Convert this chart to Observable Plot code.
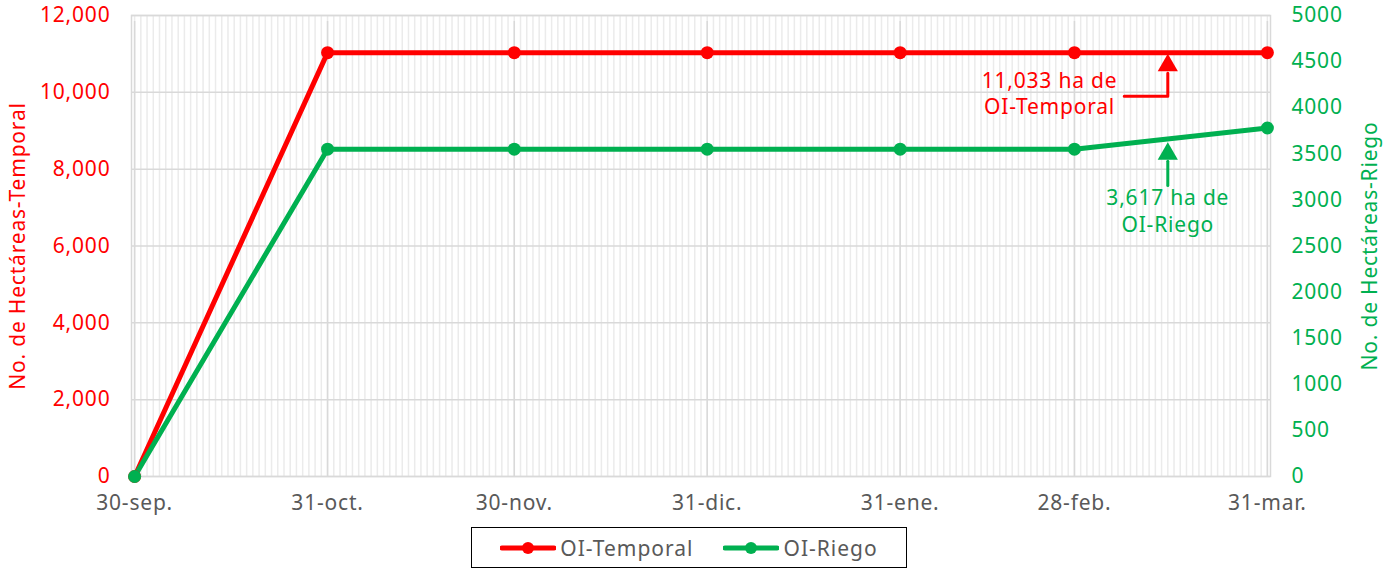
<!DOCTYPE html>
<html>
<head>
<meta charset="utf-8">
<script src="https://cdn.jsdelivr.net/npm/d3@7"></script>
<script src="https://cdn.jsdelivr.net/npm/@observablehq/plot@0.6"></script>
<style>
  body { margin: 0; background: #fff; font-family: "Noto Sans", sans-serif; }
  #chart svg { display: block; }
  #legend {
    position: absolute; left: 471px; top: 527px; width: 436px; height: 41px;
    border: 1.5px solid #000; box-sizing: border-box;
    display: flex; align-items: center; justify-content: center; gap: 30px;
    font-size: 21px; letter-spacing: 1px; color: #595959;
  }
  .item { display: flex; align-items: center; gap: 4px; }
</style>
</head>
<body>
<div id="chart"></div>
<div id="legend"></div>
<script>
// ---- data ----
const dateKeys = ["2022-09-30","2022-10-31","2022-11-30","2022-12-31","2023-01-31","2023-02-28","2023-03-31"];
const dateLabels = ["30-sep.","31-oct.","30-nov.","31-dic.","31-ene.","28-feb.","31-mar."];
const temporal = [0, 11033, 11033, 11033, 11033, 11033, 11033];
const riego = [0, 3550, 3550, 3550, 3550, 3550, 3780];
const leftTicks = [0, 2000, 4000, 6000, 8000, 10000, 12000];
const rightTicks = [0, 500, 1000, 1500, 2000, 2500, 3000, 3500, 4000, 4500, 5000];
const seriesNames = ["OI-Temporal", "OI-Riego"];
const seriesColors = ["#ff0000", "#00b050"];
const annTemporal = {date: "2023-02-24", value: 10000, text: "11,033 ha de\nOI-Temporal", arrow: [["2023-03-08", 9900], ["2023-03-15", 9900], ["2023-03-15", 10500]], tip: ["2023-03-15", 10700]};
const annRiego = {date: "2023-03-15", value: 2890, text: "3,617 ha de\nOI-Riego", arrow: [["2023-03-15", 3156], ["2023-03-15", 3420]], tip: ["2023-03-15", 3500]};

const parse = s => new Date(s + "T00:00:00Z");
const ratio = 12000 / 5000;
const rows = dateKeys.map((d, i) => ({date: parse(d), label: dateLabels[i], temporal: temporal[i], riego: riego[i]}));
const start = parse(dateKeys[0]), end = parse(dateKeys[dateKeys.length - 1]);
const days = d3.utcDay.range(start, d3.utcDay.offset(end, 1));
const labelOf = new Map(rows.map(r => [+r.date, r.label]));

const redArrow = annTemporal.arrow.map(([d, v]) => ({date: parse(d), y: v}));
const greenArrow = annRiego.arrow.map(([d, v]) => ({date: parse(d), y: v * ratio}));
const txt = {fontSize: 21, letterSpacing: "0.8px"};

const chart = Plot.plot({
  width: 1384, height: 520,
  marginLeft: 131, marginRight: 114, marginTop: 15, marginBottom: 44,
  style: {fontFamily: "'Noto Sans', sans-serif", background: "#fff", letterSpacing: "0.8px"},
  x: {type: "utc", domain: [d3.utcHour.offset(start, -12), d3.utcHour.offset(end, 12)]},
  y: {domain: [0, 12000]},
  marks: [
    Plot.ruleX(days, {x: d => d, stroke: "#ebebeb", strokeWidth: 1.5}),
    Plot.ruleY(leftTicks, {stroke: "#d9d9d9", strokeWidth: 1.5}),
    Plot.ruleX(rows, {x: "date", y1: 0, y2: 12000, insetBottom: -6, stroke: "#d9d9d9", strokeWidth: 1.5}),
    Plot.frame({stroke: "#d9d9d9", strokeWidth: 1.5}),
    Plot.axisX(rows.map(r => r.date), {tickSize: 0, tickPadding: 19, tickFormat: d => labelOf.get(+d), fill: "#595959", fontSize: 21, label: null}),
    Plot.axisY(leftTicks, {anchor: "left", tickSize: 0, tickPadding: 21, tickFormat: d3.format(","), fill: "#ff0000", fontSize: 21, label: null}),
    Plot.axisY(rightTicks.map(v => v * ratio), {anchor: "right", tickSize: 0, tickPadding: 21, tickFormat: v => String(Math.round(v / ratio)), fill: "#00b050", fontSize: 21, textAnchor: "start", label: null}),
    Plot.text(["No. de Hectáreas-Temporal"], {frameAnchor: "left", rotate: -90, dx: -113, fill: "#ff0000", fontSize: 21, textAnchor: "middle", lineAnchor: "middle"}),
    Plot.text(["No. de Hectáreas-Riego"], {frameAnchor: "right", rotate: -90, dx: 100, fill: "#00b050", fontSize: 21, textAnchor: "middle", lineAnchor: "middle"}),
    Plot.line(rows, {x: "date", y: "temporal", stroke: seriesColors[0], strokeWidth: 5}),
    Plot.line(rows, {x: "date", y: d => d.riego * ratio, stroke: seriesColors[1], strokeWidth: 5}),
    Plot.dot(rows, {x: "date", y: "temporal", r: 6.5, fill: seriesColors[0]}),
    Plot.dot(rows, {x: "date", y: d => d.riego * ratio, r: 6.5, fill: seriesColors[1]}),
    Plot.line(redArrow, {x: "date", y: "y", stroke: seriesColors[0], strokeWidth: 3}),
    Plot.dot([annTemporal.tip], {x: d => parse(d[0]), y: d => d[1], symbol: "triangle", r: 7.5, fill: seriesColors[0]}),
    Plot.line(greenArrow, {x: "date", y: "y", stroke: seriesColors[1], strokeWidth: 3}),
    Plot.dot([annRiego.tip], {x: d => parse(d[0]), y: d => d[1] * ratio, symbol: "triangle", r: 7.5, fill: seriesColors[1]}),
    Plot.text([annTemporal], {x: d => parse(d.date), y: "value", text: "text", fill: seriesColors[0], fontSize: 21, lineHeight: 1.25, textAnchor: "middle", lineAnchor: "middle"}),
    Plot.text([annRiego], {x: d => parse(d.date), y: d => d.value * ratio, text: "text", fill: seriesColors[1], fontSize: 21, lineHeight: 1.25, textAnchor: "middle", lineAnchor: "middle"})
  ]
});
document.getElementById("chart").appendChild(chart);

const legend = document.getElementById("legend");
seriesNames.forEach((name, i) => {
  const item = document.createElement("div");
  item.className = "item";
  item.innerHTML = `<svg width="56" height="14"><line x1="2" y1="7" x2="54" y2="7" stroke="${seriesColors[i]}" stroke-width="5" stroke-linecap="round"/><circle cx="28" cy="7" r="6" fill="${seriesColors[i]}"/></svg><span>${name}</span>`;
  legend.appendChild(item);
});
</script>
</body>
</html>
